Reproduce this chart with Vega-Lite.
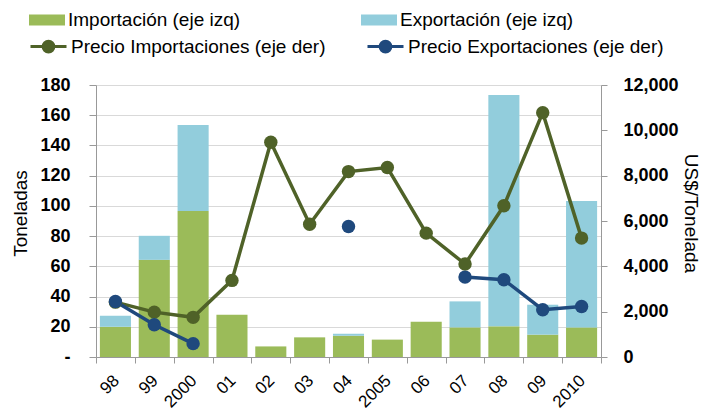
{
  "$schema": "https://vega.github.io/schema/vega-lite/v6.json",
  "width": 505,
  "height": 272,
  "autosize": {"type": "none"},
  "padding": {"left": 96, "top": 85, "right": 100, "bottom": 59},
  "config": {"font": "Liberation Sans", "view": {"stroke": null}},
  "datasets": {
    "barras": [
      {"year": "98", "serie": "Importación (eje izq)", "val": 20},
      {"year": "98", "serie": "Exportación (eje izq)", "val": 7.3},
      {"year": "99", "serie": "Importación (eje izq)", "val": 64.3},
      {"year": "99", "serie": "Exportación (eje izq)", "val": 15.9},
      {"year": "2000", "serie": "Importación (eje izq)", "val": 96.7},
      {"year": "2000", "serie": "Exportación (eje izq)", "val": 56.9},
      {"year": "01", "serie": "Importación (eje izq)", "val": 28},
      {"year": "02", "serie": "Importación (eje izq)", "val": 7},
      {"year": "03", "serie": "Importación (eje izq)", "val": 13},
      {"year": "04", "serie": "Importación (eje izq)", "val": 14.1},
      {"year": "04", "serie": "Exportación (eje izq)", "val": 1.3},
      {"year": "2005", "serie": "Importación (eje izq)", "val": 11.5},
      {"year": "06", "serie": "Importación (eje izq)", "val": 23.4},
      {"year": "07", "serie": "Importación (eje izq)", "val": 19.6},
      {"year": "07", "serie": "Exportación (eje izq)", "val": 17.2},
      {"year": "08", "serie": "Importación (eje izq)", "val": 20.3},
      {"year": "08", "serie": "Exportación (eje izq)", "val": 153.1},
      {"year": "09", "serie": "Importación (eje izq)", "val": 14.8},
      {"year": "09", "serie": "Exportación (eje izq)", "val": 19.8},
      {"year": "2010", "serie": "Importación (eje izq)", "val": 19.6},
      {"year": "2010", "serie": "Exportación (eje izq)", "val": 83.7}
    ],
    "precios": [
      {"year": "98", "serie": "Precio Importaciones (eje der)", "precio": 2420, "seg": "i"},
      {"year": "99", "serie": "Precio Importaciones (eje der)", "precio": 1980, "seg": "i"},
      {"year": "2000", "serie": "Precio Importaciones (eje der)", "precio": 1750, "seg": "i"},
      {"year": "01", "serie": "Precio Importaciones (eje der)", "precio": 3380, "seg": "i"},
      {"year": "02", "serie": "Precio Importaciones (eje der)", "precio": 9475, "seg": "i"},
      {"year": "03", "serie": "Precio Importaciones (eje der)", "precio": 5860, "seg": "i"},
      {"year": "04", "serie": "Precio Importaciones (eje der)", "precio": 8180, "seg": "i"},
      {"year": "2005", "serie": "Precio Importaciones (eje der)", "precio": 8360, "seg": "i"},
      {"year": "06", "serie": "Precio Importaciones (eje der)", "precio": 5465, "seg": "i"},
      {"year": "07", "serie": "Precio Importaciones (eje der)", "precio": 4100, "seg": "i"},
      {"year": "08", "serie": "Precio Importaciones (eje der)", "precio": 6670, "seg": "i"},
      {"year": "09", "serie": "Precio Importaciones (eje der)", "precio": 10780, "seg": "i"},
      {"year": "2010", "serie": "Precio Importaciones (eje der)", "precio": 5245, "seg": "i"},
      {"year": "98", "serie": "Precio Exportaciones (eje der)", "precio": 2450, "seg": "e1"},
      {"year": "99", "serie": "Precio Exportaciones (eje der)", "precio": 1425, "seg": "e1"},
      {"year": "2000", "serie": "Precio Exportaciones (eje der)", "precio": 590, "seg": "e1"},
      {"year": "04", "serie": "Precio Exportaciones (eje der)", "precio": 5760, "seg": "e2"},
      {"year": "07", "serie": "Precio Exportaciones (eje der)", "precio": 3525, "seg": "e3"},
      {"year": "08", "serie": "Precio Exportaciones (eje der)", "precio": 3410, "seg": "e3"},
      {"year": "09", "serie": "Precio Exportaciones (eje der)", "precio": 2085, "seg": "e3"},
      {"year": "2010", "serie": "Precio Exportaciones (eje der)", "precio": 2230, "seg": "e3"}
    ]
  },
  "encoding": {
    "x": {
      "field": "year",
      "type": "nominal",
      "sort": ["98", "99", "2000", "01", "02", "03", "04", "2005", "06", "07", "08", "09", "2010"],
      "scale": {"paddingInner": 0, "paddingOuter": 0},
      "axis": {
        "title": null,
        "labelAngle": -45,
        "labelAlign": "right",
        "labelBaseline": "top",
        "labelFontSize": 17,
        "labelColor": "#000",
        "labelPadding": 9,
        "labelOffset": -5,
        "tickBand": "extent",
        "tickSize": 6,
        "tickColor": "#999",
        "domainColor": "#999",
        "grid": false
      }
    }
  },
  "layer": [
    {
      "data": {"name": "barras"},
      "mark": {"type": "bar", "width": {"band": 0.8}},
      "encoding": {
        "y": {
          "field": "val",
          "type": "quantitative",
          "stack": "zero",
          "scale": {"domain": [0, 180]},
          "axis": {
            "values": [0, 20, 40, 60, 80, 100, 120, 140, 160, 180],
            "labelExpr": "datum.value == 0 ? '-\u00a0\u00a0\u00a0' : datum.label",
            "labelFontSize": 18,
            "labelFontWeight": "bold",
            "labelColor": "#000",
            "labelPadding": 19,
            "tickSize": 7,
            "tickColor": "#999",
            "domainColor": "#999",
            "gridColor": "#D9D9D9",
            "title": "Toneladas",
            "titleFontSize": 19,
            "titleFontWeight": "normal",
            "titleColor": "#000",
            "titleX": -76,
            "titleY": 128,
            "titleAngle": -90,
            "titleAlign": "center",
            "titleBaseline": "middle"
          }
        },
        "fill": {
          "field": "serie",
          "type": "nominal",
          "scale": {
            "domain": ["Importación (eje izq)", "Exportación (eje izq)"],
            "range": ["#9BBB59", "#92CDDC"]
          },
          "legend": {
            "orient": "none",
            "legendX": -67,
            "legendY": -83,
            "direction": "horizontal",
            "columns": 2,
            "title": null,
            "symbolType": "M-1,-0.3H1V0.3H-1Z",
            "symbolSize": 1296,
            "symbolStrokeWidth": 0,
            "labelFontSize": 19,
            "labelLimit": 500,
            "labelColor": "#000",
            "labelOffset": 3,
            "columnPadding": 120
          }
        },
        "order": {"field": "serie", "sort": "descending"}
      }
    },
    {
      "data": {"name": "precios"},
      "layer": [
        {
          "mark": {"type": "line", "strokeWidth": 3.5},
          "encoding": {
            "y": {
              "field": "precio",
              "type": "quantitative",
              "scale": {"domain": [0, 12000]},
              "axis": {
                "orient": "right",
                "values": [0, 2000, 4000, 6000, 8000, 10000, 12000],
                "format": ",d",
                "labelFontSize": 18,
                "labelFontWeight": "bold",
                "labelColor": "#000",
                "labelPadding": 16,
                "tickSize": 6,
                "tickColor": "#999",
                "domainColor": "#999",
                "grid": false,
                "title": "US$/Tonelada",
                "titleFontSize": 19,
                "titleFontWeight": "normal",
                "titleColor": "#000",
                "titleX": 89,
                "titleY": 128,
                "titleAngle": 90,
                "titleAlign": "center",
                "titleBaseline": "middle"
              }
            },
            "color": {
              "field": "serie",
              "type": "nominal",
              "scale": {
                "domain": ["Precio Importaciones (eje der)", "Precio Exportaciones (eje der)"],
                "range": ["#4F6228", "#1F497D"]
              },
              "legend": {
                "orient": "none",
                "legendX": -67,
                "legendY": -58,
                "direction": "horizontal",
                "columns": 2,
                "title": null,
                "symbolType": "M-1,0H1M0.3,0A0.3,0.3,0,1,1,-0.3,0A0.3,0.3,0,1,1,0.3,0Z",
                "symbolSize": 1296,
                "symbolStrokeWidth": 3,
                "labelFontSize": 19,
                "labelLimit": 500,
                "labelColor": "#000",
                "labelOffset": 3,
                "columnPadding": 35,
                "encode": {
                  "symbols": {
                    "update": {
                      "fill": {"scale": "color", "field": "value"},
                      "stroke": {"scale": "color", "field": "value"},
                      "strokeWidth": {"value": 3},
                      "opacity": {"value": 1}
                    }
                  }
                }
              }
            },
            "detail": {"field": "seg", "type": "nominal"}
          }
        },
        {
          "mark": {"type": "point", "filled": true, "size": 180, "opacity": 1},
          "encoding": {
            "y": {"field": "precio", "type": "quantitative"},
            "color": {"field": "serie", "type": "nominal", "legend": null}
          }
        }
      ]
    }
  ],
  "resolve": {"scale": {"y": "independent"}}
}
